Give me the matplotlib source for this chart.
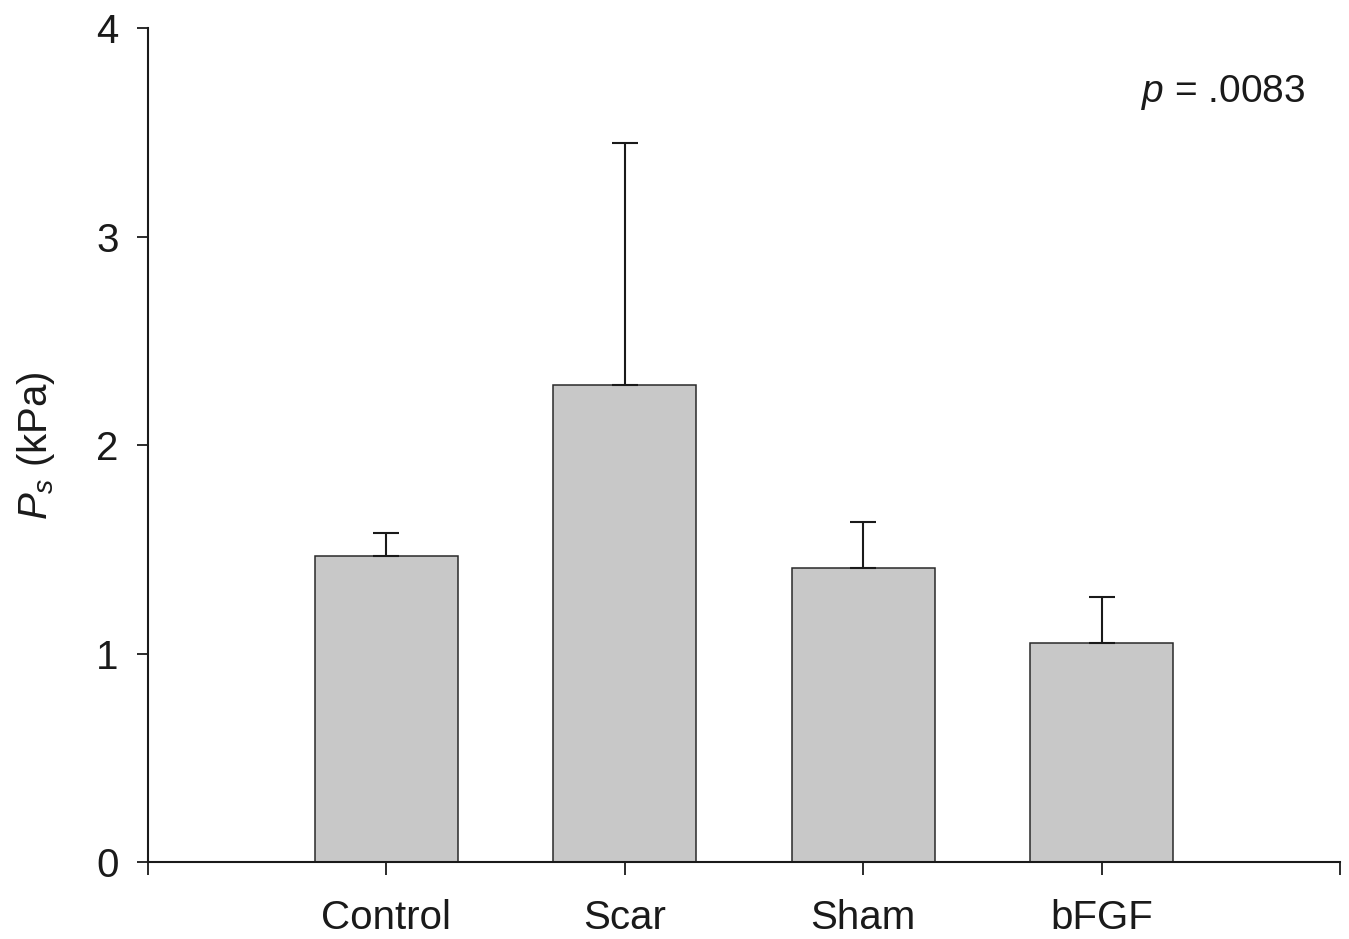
import matplotlib
matplotlib.use("Agg")
import matplotlib.pyplot as plt

plt.rcParams["font.family"] = ["Liberation Sans", "DejaVu Sans"]
plt.rcParams["mathtext.fontset"] = "custom"
plt.rcParams["mathtext.rm"] = "Liberation Sans"
plt.rcParams["mathtext.it"] = "Liberation Sans:italic"

# valores
categories = ["Control", "Scar", "Sham", "bFGF"]
means = [1.47, 2.29, 1.41, 1.05]
errors = [0.11, 1.16, 0.22, 0.22]
positions = [1, 2, 3, 4]

fig = plt.figure(figsize=(13.49, 9.39), dpi=100)
ax = fig.add_axes([0.1097, 0.082, 0.8836, 0.888])

ax.bar(positions, means, width=0.6, color="#c8c8c8", edgecolor="#2a2a2a",
       linewidth=1.1, zorder=2)
ax.errorbar(positions, means, yerr=[[0] * 4, errors], fmt="none",
            ecolor="#1a1a1a", elinewidth=1.5, capsize=9.5, capthick=1.5, zorder=3)

ax.set_xlim(0, 5)
ax.set_ylim(0, 4)
ax.set_xticks([0, 1, 2, 3, 4, 5])
ax.set_xticklabels([""] + categories + [""])
ax.set_yticks([0, 1, 2, 3, 4])

for side in ("top", "right"):
    ax.spines[side].set_visible(False)
for side in ("left", "bottom"):
    ax.spines[side].set_linewidth(1.5)
    ax.spines[side].set_color("#1a1a1a")

ax.tick_params(axis="x", direction="out", length=9.5, width=1.3, pad=17,
               labelsize=29, colors="#1a1a1a")
ax.tick_params(axis="y", direction="out", length=8, width=1.3, pad=13,
               labelsize=29, colors="#1a1a1a")

ax.set_ylabel(r"$P_s$ (kPa)", fontsize=29, color="#1a1a1a", labelpad=28)

ax.text(0.971, 0.923, r"$p$ = .0083", transform=ax.transAxes, ha="right",
        va="center", fontsize=28, color="#1a1a1a")

fig.savefig("out.png", dpi=100)
